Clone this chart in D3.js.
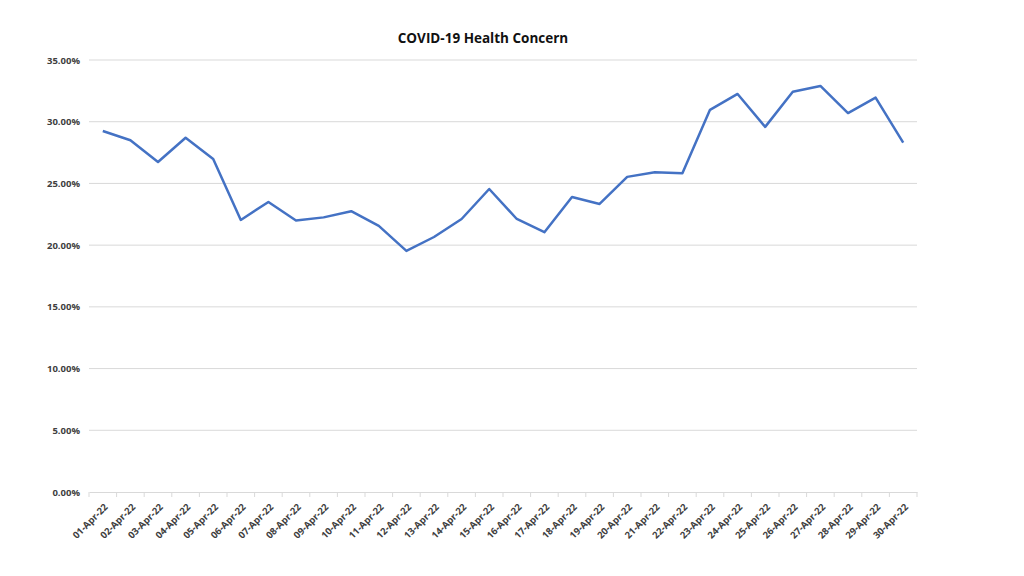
<!DOCTYPE html>
<html><head><meta charset="utf-8">
<script src="https://cdn.jsdelivr.net/npm/d3@7"></script>
<style>body{margin:0;background:#fff;} svg{display:block;font-family:"Open Sans","Noto Sans",sans-serif;}</style>
</head><body>
<svg id="c" width="1024" height="576"></svg>
<script>
const categories = ["01-Apr-22","02-Apr-22","03-Apr-22","04-Apr-22","05-Apr-22","06-Apr-22","07-Apr-22","08-Apr-22","09-Apr-22","10-Apr-22","11-Apr-22","12-Apr-22","13-Apr-22","14-Apr-22","15-Apr-22","16-Apr-22","17-Apr-22","18-Apr-22","19-Apr-22","20-Apr-22","21-Apr-22","22-Apr-22","23-Apr-22","24-Apr-22","25-Apr-22","26-Apr-22","27-Apr-22","28-Apr-22","29-Apr-22","30-Apr-22"];
const values = [0.2925,0.2850,0.2674,0.2870,0.2698,0.2204,0.2350,0.2200,0.2225,0.2275,0.2156,0.1953,0.2066,0.2212,0.2455,0.2212,0.2105,0.2390,0.2334,0.2553,0.2590,0.2583,0.3096,0.3225,0.2958,0.3242,0.3290,0.3070,0.3195,0.2830];
const yTicks = [0,0.05,0.10,0.15,0.20,0.25,0.30,0.35];
const title = "COVID-19 Health Concern";

const svg = d3.select("#c");
const m = {l:89, r:107, t:60, b:84};
const W = 1024, H = 576;
const x = d3.scaleBand().domain(categories).range([m.l, W-m.r]);
const y = d3.scaleLinear().domain([0,0.35]).range([H-m.b, m.t]);

svg.append("text").attr("x",483).attr("y",43).attr("text-anchor","middle")
  .attr("font-size",13.5).attr("font-weight","bold").attr("fill","#111").text(title);

// gridlines
svg.append("g").selectAll("line").data(yTicks.filter(d=>d>0)).join("line")
  .attr("x1",m.l).attr("x2",W-m.r).attr("y1",d=>y(d)).attr("y2",d=>y(d))
  .attr("stroke","#d9d9d9").attr("stroke-width",1);

// y labels
const yAxis = svg.append("g").attr("transform",`translate(${m.l},0)`)
  .call(d3.axisLeft(y).tickValues(yTicks).tickFormat(d3.format(".2%")).tickSize(0).tickPadding(9));
yAxis.select(".domain").remove();
yAxis.selectAll("text").attr("font-size",9.5).attr("font-weight","bold").attr("fill","#404040")
  .attr("font-family","'Open Sans','Noto Sans',sans-serif");

// x axis
const xAxis = svg.append("g").attr("transform",`translate(0,${y(0)})`)
  .call(d3.axisBottom(x).tickSize(0).tickPadding(6));
xAxis.select(".domain").attr("stroke","#d9d9d9");
// boundary ticks
svg.append("g").selectAll("line").data(categories.concat(["__end"])).join("line")
  .attr("x1",(d,i)=>m.l + i*x.step()).attr("x2",(d,i)=>m.l + i*x.step())
  .attr("y1",y(0)).attr("y2",y(0)+5).attr("stroke","#d9d9d9");
xAxis.selectAll("text").attr("font-size",9.5).attr("font-weight","bold").attr("fill","#404040")
  .attr("font-family","'Open Sans','Noto Sans',sans-serif")
  .attr("text-anchor","end").attr("dy","0.35em")
  .attr("transform","translate(-1,9) rotate(-45)");

// line
svg.append("path").datum(values)
  .attr("fill","none").attr("stroke","#4472c4").attr("stroke-width",2.5).attr("stroke-linejoin","round")
  .attr("d", d3.line().x((d,i)=>x(categories[i])+x.bandwidth()/2).y(d=>y(d)));
</script>
</body></html>
